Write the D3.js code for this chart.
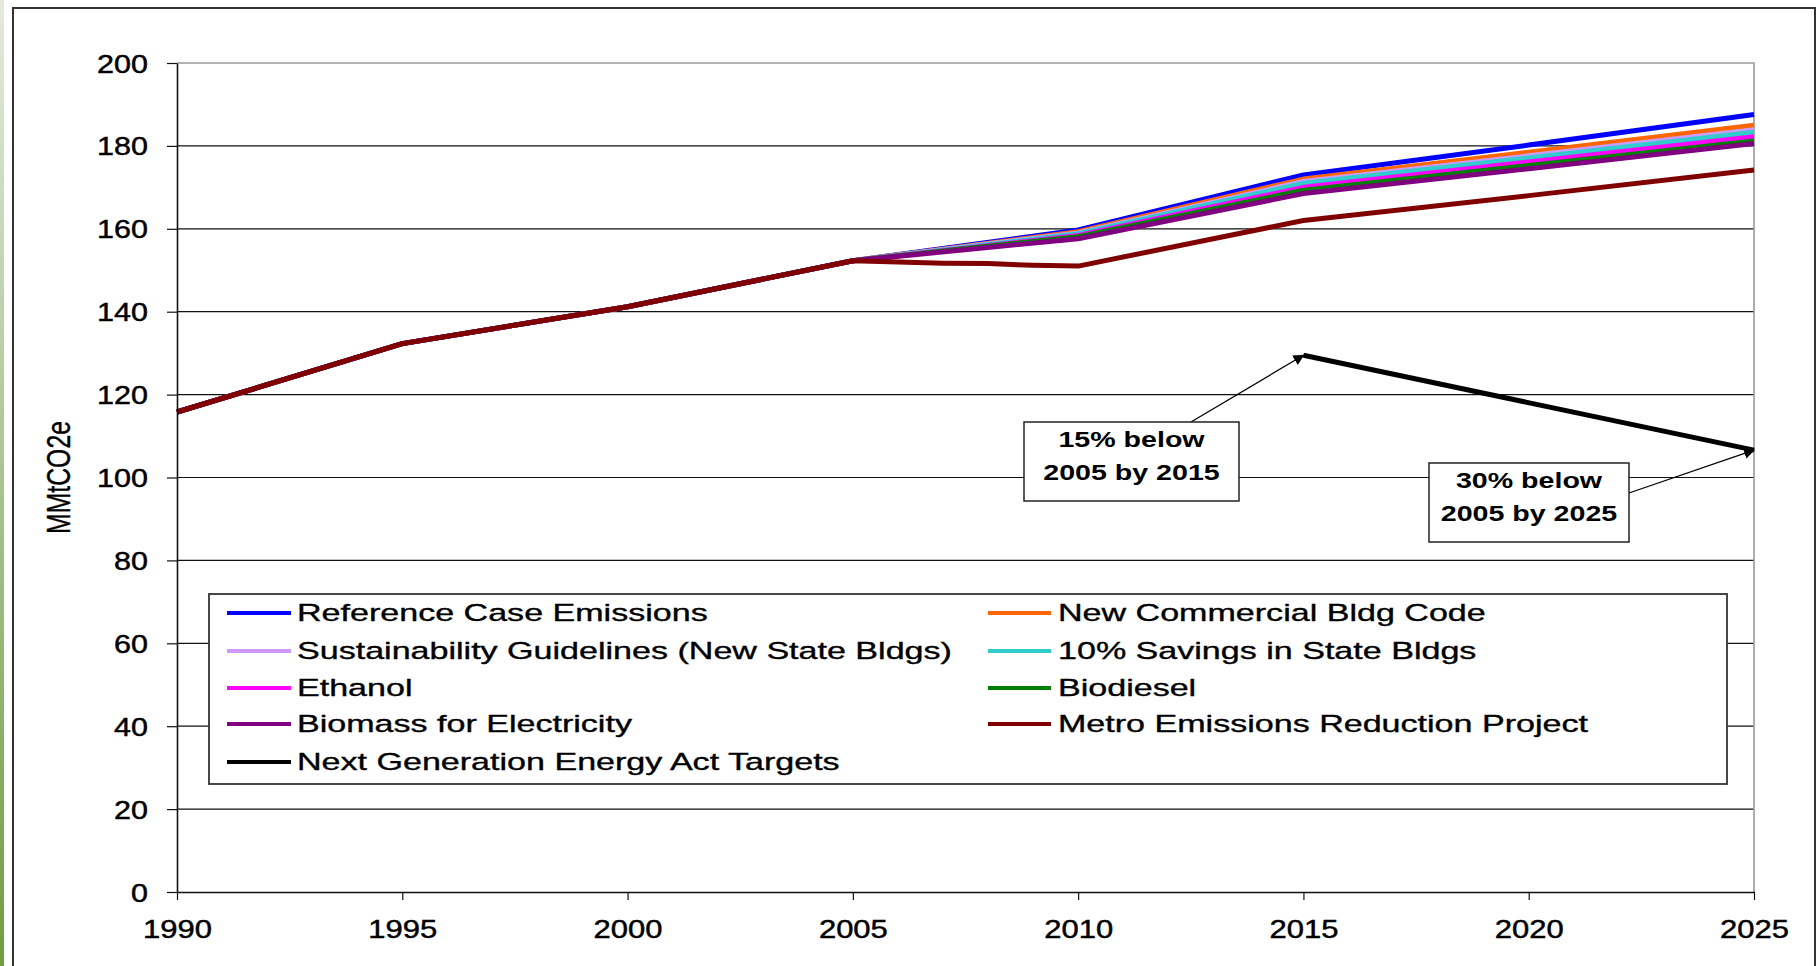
<!DOCTYPE html>
<html>
<head>
<meta charset="utf-8">
<script src="https://cdn.jsdelivr.net/npm/d3@7"></script>
<style>
  html, body { margin: 0; padding: 0; background: #fff; }
  svg { display: block; font-family: "Liberation Sans", Arial, sans-serif; }
</style>
</head>
<body>
<svg id="chart" width="1820" height="966"></svg>
<script>
// ---------------- DATA ----------------
const years = [1990, 1995, 2000, 2005, 2010, 2015, 2020, 2025];
const referenceCase   = [115.8, 132.3, 141.2, 152.3, 159.7, 173.0, 180.2, 187.6];
const newCommercial   = [115.8, 132.3, 141.2, 152.3, 159.3, 172.0, 178.5, 185.0];
const sustainability  = [115.8, 132.3, 141.2, 152.3, 159.0, 171.4, 177.6, 183.9];
const savings10       = [115.8, 132.3, 141.2, 152.3, 158.8, 171.0, 177.1, 183.3];
const ethanol         = [115.8, 132.3, 141.2, 152.3, 158.4, 170.0, 176.1, 182.2];
const biodiesel       = [115.8, 132.3, 141.2, 152.3, 158.1, 169.3, 175.3, 181.2];
const biomass         = [115.8, 132.3, 141.2, 152.3, 157.6, 168.5, 174.5, 180.6];
const metroYears      = [1990, 1995, 2000, 2005, 2006, 2007, 2008, 2009, 2010, 2015, 2020, 2025];
const metro           = [115.8, 132.3, 141.2, 152.3, 152.0, 151.7, 151.6, 151.2, 151.0, 162.0, 168.0, 174.2];
const targetYears     = [2015, 2025];
const targets         = [129.5, 106.6];

const seriesNames = [
  "Reference Case Emissions", "New Commercial Bldg Code",
  "Sustainability Guidelines (New State Bldgs)", "10% Savings in State Bldgs",
  "Ethanol", "Biodiesel", "Biomass for Electricity", "Metro Emissions Reduction Project",
  "Next Generation Energy Act Targets"
];
const seriesColors = ["#0000FF", "#FF6600", "#CC99FF", "#33CCCC", "#FF00FF", "#008000", "#800080", "#800000", "#000000"];

const yTicks = [0, 20, 40, 60, 80, 100, 120, 140, 160, 180, 200];
const xTicks = [1990, 1995, 2000, 2005, 2010, 2015, 2020, 2025];
const yTitle = "MMtCO2e";
const notes = [
  { lines: ["15% below", "2005 by 2015"], year: 2015, value: 129.5 },
  { lines: ["30% below", "2005 by 2025"], year: 2025, value: 106.6 }
];

// ---------------- LAYOUT ----------------
const svg = d3.select("#chart");
const L = 177, R = 1754, T = 63, B = 892;
const x = d3.scaleLinear().domain([1990, 2025]).range([L, R]);
const y = d3.scaleLinear().domain([0, 200]).range([B, T]);

// slide edge strip
const defs = svg.append("defs");
const gr = defs.append("linearGradient").attr("id", "edge").attr("x1", 0).attr("y1", 0).attr("x2", 0).attr("y2", 1);
gr.append("stop").attr("offset", "0%").attr("stop-color", "#e4eadf");
gr.append("stop").attr("offset", "100%").attr("stop-color", "#6e9e40");
svg.append("rect").attr("x", 0).attr("y", 0).attr("width", 4).attr("height", 966).attr("fill", "url(#edge)");

// outer chart border
svg.append("rect").attr("x", 13).attr("y", 8).attr("width", 1802).attr("height", 980)
  .attr("fill", "#fff").attr("stroke", "#333").attr("stroke-width", 2);

// gridlines
svg.append("g").selectAll("line").data(yTicks.filter(d => d > 0 && d < 200)).join("line")
  .attr("x1", L).attr("x2", R).attr("y1", d => y(d)).attr("y2", d => y(d))
  .attr("stroke", "#111").attr("stroke-width", 1.2);

// plot-area border (top & right, gray)
svg.append("path").attr("d", `M${L},${y(200)}H${R}V${B}`)
  .attr("fill", "none").attr("stroke", "#9a9a9a").attr("stroke-width", 1.6);

// series lines
const allSeries = [
  { yrs: years, vals: referenceCase },
  { yrs: years, vals: newCommercial },
  { yrs: years, vals: sustainability },
  { yrs: years, vals: savings10 },
  { yrs: years, vals: ethanol },
  { yrs: years, vals: biodiesel },
  { yrs: years, vals: biomass },
  { yrs: metroYears, vals: metro },
  { yrs: targetYears, vals: targets }
];
const line = d3.line().x(d => x(d[0])).y(d => y(d[1]));
svg.append("g").selectAll("path").data(allSeries).join("path")
  .attr("d", s => line(s.yrs.map((yr, i) => [yr, s.vals[i]])))
  .attr("fill", "none")
  .attr("stroke", (s, i) => seriesColors[i])
  .attr("stroke-width", 5)
  .attr("stroke-linejoin", "round");

// axes
const yAxis = svg.append("g").attr("transform", `translate(${L},0)`)
  .call(d3.axisLeft(y).tickValues(yTicks).tickSize(10).tickSizeOuter(0));
yAxis.select(".domain").attr("stroke", "#111").attr("stroke-width", 1.6);
yAxis.selectAll(".tick line").attr("stroke", "#111").attr("stroke-width", 1.2);
yAxis.selectAll(".tick text")
  .attr("x", 0).attr("dy", "0.36em").attr("text-anchor", "end")
  .attr("transform", "translate(-29,0) scale(1.22,1)")
  .attr("font-size", 25).attr("fill", "#000").attr("stroke", "#000").attr("stroke-width", 0.45)
  .attr("font-family", "Liberation Sans, Arial, sans-serif");

const xAxis = svg.append("g").attr("transform", `translate(0,${B})`)
  .call(d3.axisBottom(x).tickValues(xTicks).tickSize(8).tickSizeOuter(0).tickFormat(d3.format("d")));
xAxis.select(".domain").attr("stroke", "#111").attr("stroke-width", 1.6);
xAxis.selectAll(".tick line").attr("stroke", "#111").attr("stroke-width", 1.2);
xAxis.selectAll(".tick text")
  .attr("y", 0).attr("dy", 0)
  .attr("transform", "translate(0,46) scale(1.24,1)")
  .attr("font-size", 25).attr("fill", "#000").attr("stroke", "#000").attr("stroke-width", 0.45)
  .attr("font-family", "Liberation Sans, Arial, sans-serif");

// y title
svg.append("g").attr("transform", `translate(70,${y(100)}) scale(1.35,1) rotate(-90)`)
  .append("text").attr("text-anchor", "middle").attr("x", 0).attr("y", 0)
  .attr("font-size", 24.8).attr("fill", "#000").attr("stroke", "#000").attr("stroke-width", 0.3).text(yTitle);

// legend
const lg = svg.append("g");
lg.append("rect").attr("x", 209).attr("y", 594).attr("width", 1727 - 209).attr("height", 784 - 594)
  .attr("fill", "#fff").attr("stroke", "#333").attr("stroke-width", 1.8);
const rowY = [613, 651, 688, 724, 762];
const colLine = [[227, 291, 297], [988, 1051, 1058]];
seriesNames.forEach((name, i) => {
  const r = Math.floor(i / 2), c = i % 2;
  const cy = rowY[r];
  lg.append("line").attr("x1", colLine[c][0]).attr("x2", colLine[c][1])
    .attr("y1", cy).attr("y2", cy).attr("stroke", seriesColors[i]).attr("stroke-width", 4);
  lg.append("g").attr("transform", `translate(${colLine[c][2]},${cy}) scale(1.45,1)`)
    .append("text").attr("x", 0).attr("y", 0).attr("dy", "0.36em")
    .attr("font-size", 23.5).attr("fill", "#000").attr("stroke", "#000").attr("stroke-width", 0.35).text(name);
});

// annotations
defs.append("marker").attr("id", "arrow").attr("viewBox", "0 0 10 10")
  .attr("refX", 9).attr("refY", 5).attr("markerWidth", 11).attr("markerHeight", 11)
  .attr("markerUnits", "userSpaceOnUse").attr("orient", "auto")
  .append("path").attr("d", "M0,0L10,5L0,10Z").attr("fill", "#000");

const boxes = [
  { x0: 1024, y0: 422, x1: 1239, y1: 501, ax: 1191, ay: 422 },
  { x0: 1429, y0: 463, x1: 1629, y1: 542, ax: 1629, ay: 493 }
];
notes.forEach((n, i) => {
  const b = boxes[i];
  svg.append("line").attr("x1", b.ax).attr("y1", b.ay)
    .attr("x2", x(n.year)).attr("y2", y(n.value))
    .attr("stroke", "#000").attr("stroke-width", 1.3).attr("marker-end", "url(#arrow)");
  svg.append("rect").attr("x", b.x0).attr("y", b.y0).attr("width", b.x1 - b.x0).attr("height", b.y1 - b.y0)
    .attr("fill", "#fff").attr("stroke", "#222").attr("stroke-width", 1.5);
  const cx = (b.x0 + b.x1) / 2;
  n.lines.forEach((t, k) => {
    svg.append("g").attr("transform", `translate(${cx},${b.y0 + 17 + k * 33}) scale(1.3,1)`)
      .append("text").attr("text-anchor", "middle").attr("dy", "0.36em")
      .attr("font-size", 22).attr("font-weight", "bold").attr("fill", "#000").text(t);
  });
});
</script>
</body>
</html>
